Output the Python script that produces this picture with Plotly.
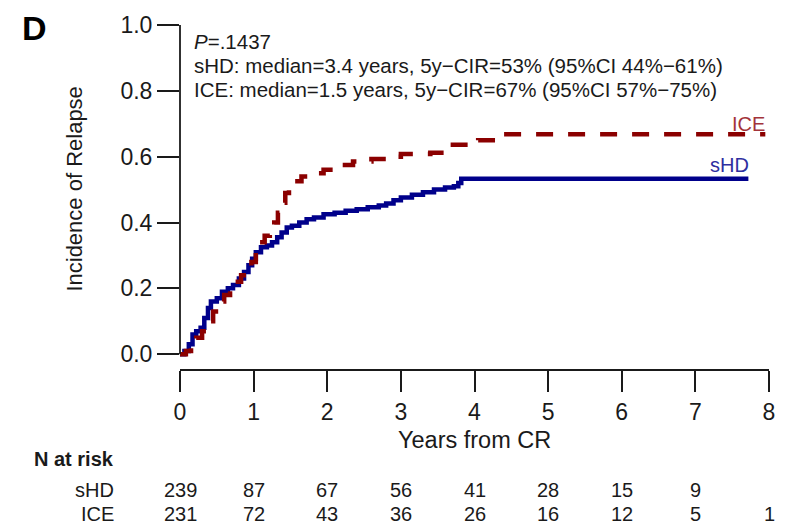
import plotly.graph_objects as go

# Cumulative incidence of relapse (step estimates), years from CR
shd_time = [0, 0.06, 0.12, 0.17, 0.22, 0.28, 0.33, 0.38, 0.42, 0.50, 0.57, 0.65, 0.72,
            0.80, 0.87, 0.93, 0.98, 1.03, 1.10, 1.18, 1.25, 1.32, 1.38, 1.45, 1.52, 1.62,
            1.72, 1.82, 1.95, 2.10, 2.25, 2.40, 2.55, 2.70, 2.80, 2.90, 3.00, 3.15, 3.30,
            3.45, 3.60, 3.72, 3.78, 3.82, 7.72]
shd_cir = [0, 0.01, 0.03, 0.06, 0.07, 0.08, 0.11, 0.14, 0.16, 0.17, 0.19, 0.20, 0.21,
           0.23, 0.25, 0.27, 0.29, 0.31, 0.325, 0.33, 0.34, 0.355, 0.37, 0.385, 0.39, 0.40,
           0.41, 0.415, 0.425, 0.43, 0.436, 0.44, 0.446, 0.452, 0.458, 0.468, 0.476, 0.484,
           0.492, 0.50, 0.506, 0.51, 0.52, 0.533, 0.533]

ice_time = [0, 0.08, 0.15, 0.22, 0.30, 0.38, 0.45, 0.53, 0.60, 0.68, 0.75, 0.83, 0.90,
            0.97, 1.03, 1.08, 1.15, 1.22, 1.28, 1.33, 1.38, 1.43, 1.48, 1.55, 1.65, 1.80,
            1.95, 2.10, 2.35, 2.60, 2.85, 3.00, 3.40, 3.55, 3.62, 3.95, 4.05, 4.40, 7.95]
ice_cir = [0, 0.01, 0.03, 0.05, 0.07, 0.10, 0.13, 0.16, 0.18, 0.20, 0.22, 0.24, 0.26,
           0.28, 0.31, 0.34, 0.36, 0.38, 0.40, 0.43, 0.46, 0.49, 0.51, 0.525, 0.54, 0.55,
           0.56, 0.575, 0.585, 0.593, 0.60, 0.608, 0.612, 0.625, 0.636, 0.64, 0.65, 0.668, 0.668]

x_ticks = [0, 1, 2, 3, 4, 5, 6, 7, 8]
y_ticks = [0.0, 0.2, 0.4, 0.6, 0.8, 1.0]
y_tick_text = ["0.0", "0.2", "0.4", "0.6", "0.8", "1.0"]

risk_groups = ["sHD", "ICE"]
risk_shd = [239, 87, 67, 56, 41, 28, 15, 9, None]
risk_ice = [231, 72, 43, 36, 26, 16, 12, 5, 1]

stat_lines = [
    "<i>P</i>=.1437",
    "sHD: median=3.4 years, 5y\u2212CIR=53% (95%CI 44%\u221261%)",
    "ICE: median=1.5 years, 5y\u2212CIR=67% (95%CI 57%\u221275%)",
]

BLUE = "#00008B"
RED = "#8B0000"
FONT = "Liberation Sans, Arial, sans-serif"
INK = "#1a1a1a"

W, H = 787, 529
M_L, M_R, M_T, M_B = 180, 18, 20, 160
Y_RANGE = [-0.045, 1.0]
plot_w = W - M_L - M_R
plot_h = H - M_T - M_B


def px_x(px):
    return (px - M_L) / plot_w


def px_y(py):
    return (H - M_B - py) / plot_h


fig = go.Figure()
fig.add_trace(go.Scatter(x=shd_time, y=shd_cir, mode="lines", line_shape="hv",
                         line=dict(color=BLUE, width=4.5), name="sHD", hoverinfo="skip"))
fig.add_trace(go.Scatter(x=ice_time, y=ice_cir, mode="lines", line_shape="hv",
                         line=dict(color=RED, width=4.5, dash="17px,15px"), name="ICE",
                         hoverinfo="skip"))

annotations = []
# panel letter
annotations.append(dict(text="<b>D</b>", xref="paper", yref="paper", x=px_x(20), y=px_y(23),
                        xanchor="left", yanchor="middle", showarrow=False,
                        font=dict(family=FONT, size=34, color="black")))
# test statistics
for i, line in enumerate(stat_lines):
    annotations.append(dict(text=line, xref="paper", yref="paper", x=px_x(192),
                            y=px_y(37 + 24 * i), xanchor="left", yanchor="middle",
                            showarrow=False, font=dict(family=FONT, size=20.5, color=INK)))
# curve labels
annotations.append(dict(text="ICE", xref="paper", yref="paper", x=px_x(767), y=px_y(120),
                        xanchor="right", yanchor="middle", showarrow=False,
                        font=dict(family=FONT, size=20, color="#A3333A")))
annotations.append(dict(text="sHD", xref="paper", yref="paper", x=px_x(751), y=px_y(162),
                        xanchor="right", yanchor="middle", showarrow=False,
                        font=dict(family=FONT, size=20, color="#2E2EA0")))
# axis titles
annotations.append(dict(text="Years from CR", xref="paper", yref="paper", x=0.5, y=px_y(441),
                        xanchor="center", yanchor="middle", showarrow=False,
                        font=dict(family=FONT, size=23.5, color=INK)))
annotations.append(dict(text="Incidence of Relapse", xref="paper", yref="paper", x=px_x(75),
                        y=px_y(187), xanchor="center", yanchor="middle", textangle=-90,
                        showarrow=False, font=dict(family=FONT, size=22, color=INK)))
# number at risk table
annotations.append(dict(text="<b>N at risk</b>", xref="paper", yref="paper", x=px_x(116),
                        y=px_y(460), xanchor="right", yanchor="middle", showarrow=False,
                        font=dict(family=FONT, size=20, color=INK)))
for grp, counts, ypx in [(risk_groups[0], risk_shd, 492), (risk_groups[1], risk_ice, 516)]:
    annotations.append(dict(text=grp, xref="paper", yref="paper", x=px_x(116), y=px_y(ypx),
                            xanchor="right", yanchor="middle", showarrow=False,
                            font=dict(family=FONT, size=20, color=INK)))
    for t, n in zip(x_ticks, counts):
        if n is None:
            continue
        annotations.append(dict(text=str(n), xref="x", yref="paper", x=t, y=px_y(ypx),
                                xanchor="center", yanchor="middle", showarrow=False,
                                font=dict(family=FONT, size=20, color=INK)))

fig.update_layout(
    width=W, height=H,
    margin=dict(l=M_L, r=M_R, t=M_T, b=M_B, pad=0),
    paper_bgcolor="white", plot_bgcolor="white",
    showlegend=False,
    annotations=annotations,
    shapes=[dict(type="line", xref="paper", yref="y", x0=0, x1=0, y0=0, y1=1,
                 line=dict(color=INK, width=1.8), layer="above")],
    xaxis=dict(range=[0, 8], tickvals=x_ticks, ticktext=[str(v) for v in x_ticks],
               showgrid=False, zeroline=False, showline=True, linecolor=INK, linewidth=1.8,
               ticks="outside", ticklen=21, tickwidth=1.8, tickcolor=INK,
               tickfont=dict(family=FONT, size=23, color=INK), fixedrange=True),
    yaxis=dict(range=Y_RANGE, tickvals=y_ticks, ticktext=y_tick_text,
               showgrid=False, zeroline=False, showline=False,
               ticks="outside", ticklen=22, tickwidth=1.8, tickcolor=INK,
               tickfont=dict(family=FONT, size=23, color=INK), fixedrange=True),
)

fig.write_html("out.html")
